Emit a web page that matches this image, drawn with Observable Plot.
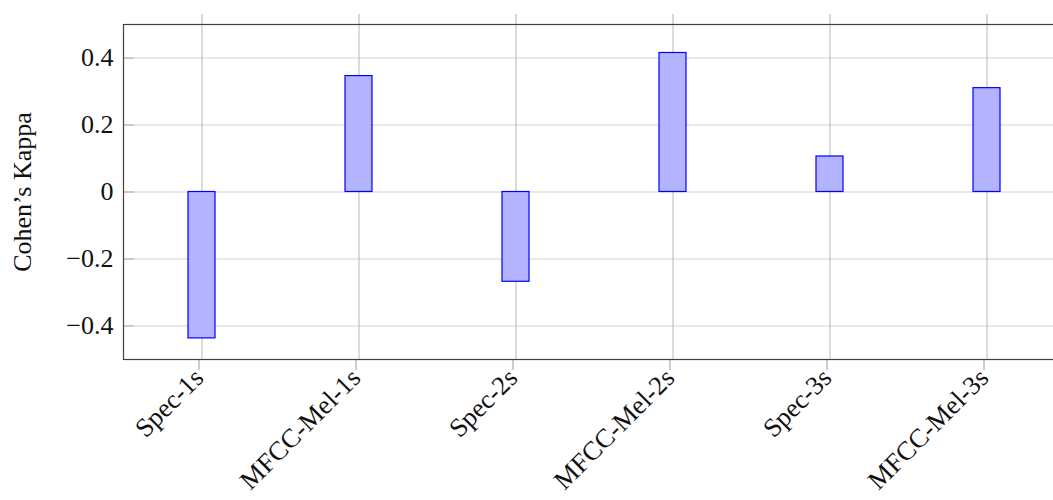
<!DOCTYPE html>
<html>
<head>
<meta charset="utf-8">
<script src="https://cdn.jsdelivr.net/npm/d3@7"></script>
<script src="https://cdn.jsdelivr.net/npm/@observablehq/plot@0.6"></script>
<style>
  html, body { margin: 0; padding: 0; background: #fff; overflow: hidden; }
  #chart svg { max-width: none !important; }
</style>
</head>
<body>
<div id="chart"></div>
<script>
// Cohen's kappa per feature set / window length
const models = ["Spec-1s", "MFCC-Mel-1s", "Spec-2s", "MFCC-Mel-2s", "Spec-3s", "MFCC-Mel-3s"];
const kappa = [-0.437, 0.346, -0.268, 0.415, 0.106, 0.310];
const yTicks = [-0.4, -0.2, 0, 0.2, 0.4];

const data = models.map((m, i) => ({model: m, kappa: kappa[i]}));

const fmt = d => d === 0 ? "0" : (d < 0 ? "\u2212" : "") + Math.abs(d).toFixed(1);

const chart = Plot.plot({
  width: 1065,
  height: 500,
  marginTop: 24,
  marginBottom: 141,
  marginLeft: 123,
  marginRight: 0,
  style: {fontFamily: "'Liberation Serif', serif", fontSize: "29px", color: "#111"},
  x: {type: "band", domain: models, paddingInner: 0.83, paddingOuter: 0.415, align: 0.5},
  y: {domain: [-0.5, 0.5]},
  marks: [
    Plot.gridY(yTicks, {stroke: "#d3d3d3", strokeOpacity: 1}),
    Plot.gridX(models, {stroke: "#b8b8b8", strokeOpacity: 1}),
    Plot.axisX({anchor: "top", tickSize: 11, stroke: "#b0b0b0", tickFormat: () => "", label: null}),
    Plot.axisX({anchor: "bottom", tickSize: 11, stroke: "#9a9a9a", tickRotate: -45, tickPadding: 3,
      fontSize: 26.5, dx: -3, label: null}),
    Plot.axisY(yTicks, {anchor: "left", tickSize: -11, stroke: "#aaa", tickFormat: () => "", label: null}),
    Plot.axisY(yTicks, {anchor: "left", tickSize: 0, tickPadding: 10, tickFormat: fmt, fontSize: 26,
      label: "Cohen\u2019s Kappa", labelAnchor: "center", labelArrow: "none", labelOffset: 111}),
    Plot.barY(data, {x: "model", y: "kappa", fill: "#b3b3ff", stroke: "#0000ff", strokeWidth: 1.2}),
    Plot.frame({stroke: "#404040", strokeWidth: 1.2})
  ]
});

document.getElementById("chart").append(chart);
</script>
</body>
</html>
